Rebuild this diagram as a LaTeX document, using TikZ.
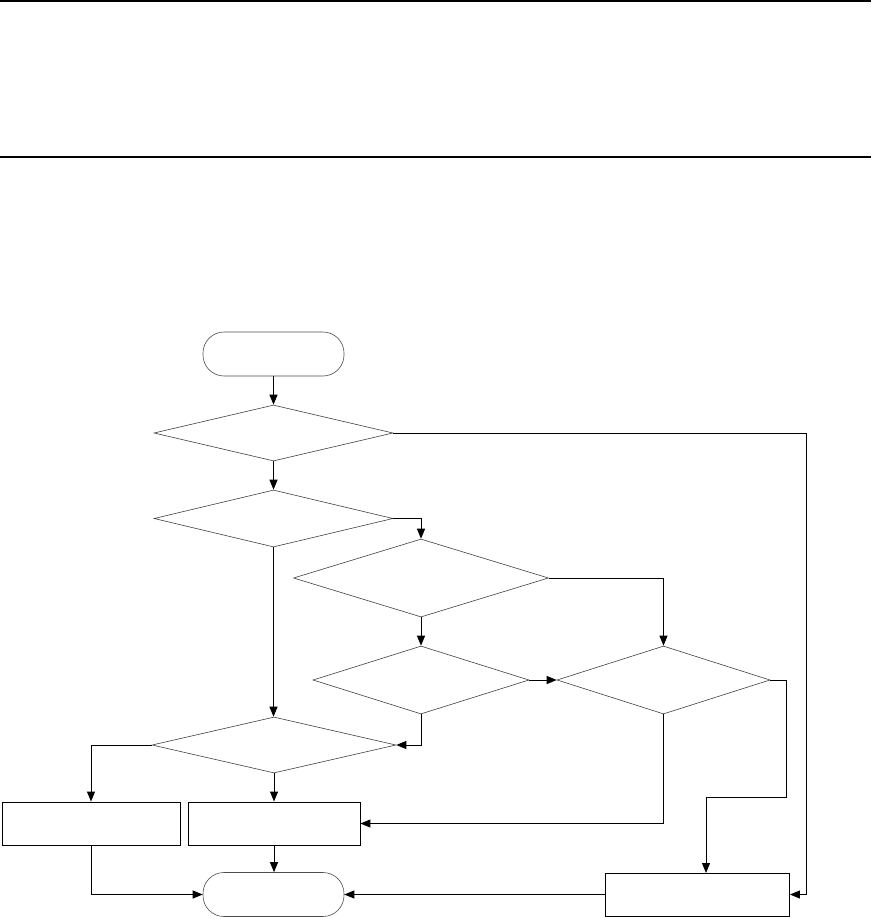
\documentclass[tikz,border=0pt]{standalone}
\usetikzlibrary{shapes.geometric,arrows.meta}
\begin{document}
\begin{tikzpicture}[x=1pt,y=-1pt,
  dec/.style={diamond,draw=black!75,line width=0.6pt,inner sep=0pt},
  term/.style={rectangle,rounded corners=21pt,draw=black!70,line width=0.6pt,minimum width=141pt,minimum height=44pt,inner sep=0pt},
  proc/.style={rectangle,draw=black,line width=0.9pt,inner sep=0pt,minimum height=43pt},
  arr/.style={line width=1pt,-{Triangle[length=10pt,width=8pt]}},
  ln/.style={line width=1pt}]
\useasboundingbox (0,0) rectangle (871,917);
\draw[line width=1.5pt] (0,1) -- (871,1);
\draw[line width=1.5pt] (0,157) -- (871,157);
\node[term] (start) at (273.5,354) {};
\node[dec,minimum width=239pt,minimum height=56pt] (d1) at (273.5,433) {};
\node[dec,minimum width=239pt,minimum height=57pt] (d2) at (273.5,518.5) {};
\node[dec,minimum width=255pt,minimum height=78pt] (d3) at (421,578) {};
\node[dec,minimum width=216pt,minimum height=68pt] (d4) at (421,680) {};
\node[dec,minimum width=213pt,minimum height=68pt] (d5) at (663.5,680) {};
\node[dec,minimum width=244pt,minimum height=56pt] (d6) at (274,745) {};
\node[proc,minimum width=178pt] (lbox) at (91,823.5) {};
\node[proc,minimum width=172pt] (mbox) at (274,823.5) {};
\node[proc,minimum width=184pt] (rbox) at (697.5,894.5) {};
\node[term] (end) at (273.5,894.5) {};
\coordinate (c1) at (806,433);
\coordinate (c2) at (786,680);
\coordinate (c3) at (786,797);
\coordinate (c4) at (706,797);
\coordinate (c5) at (706,873);
\draw[arr] (start.south) -- (d1.north);
\draw[arr] (d1.east) -- (c1) |- (rbox.east);
\draw[arr] (d1.south) -- (d2.north);
\draw[arr] (d2.east) -| (d3.north);
\draw[arr] (d2.south) -- (d2.south |- d6.north);
\draw[arr] (d3.east) -| (d5.north);
\draw[arr] (d3.south) -- (d4.north);
\draw[arr] (d4.east) -- (d5.west);
\draw[arr] (d4.south) |- (d6.east);
\draw[arr] (d6.west) -| (lbox.north);
\draw[arr] (d6.south) -- (mbox.north);
\draw[arr] (d5.south) |- (mbox.east);
\draw[arr] (d5.east) -- (c2) -- (c3) -- (c4) -- (c5);
\draw[arr] (lbox.south) |- (end.west);
\draw[arr] (mbox.south) -- (mbox.south |- end.north);
\draw[arr] (rbox.west) -- (end.east);
\end{tikzpicture}
\end{document}
